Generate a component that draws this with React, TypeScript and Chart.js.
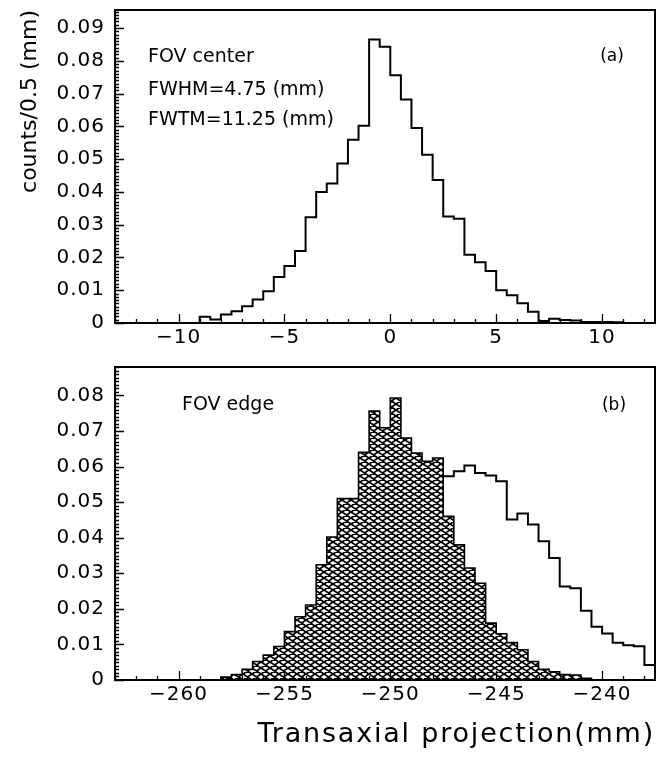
import React, { useEffect, useRef } from 'react';
import { Chart, registerables } from 'chart.js';

Chart.register(...registerables);

const FONT = '"DejaVu Sans", "Liberation Sans", sans-serif';

// ---------- data ----------
const binWidth = 0.5;

// (a) FOV center: bins start at -13 mm, 0.5 mm wide
const centerBinStart = -13;
const centerCounts = [
  0, 0, 0, 0, 0, 0, 0, 0,
  0.0019, 0.0011, 0.0026, 0.0036, 0.0051, 0.0072, 0.0097, 0.014,
  0.0174, 0.022, 0.0323, 0.04, 0.0426, 0.0487, 0.0559, 0.0602,
  0.0865, 0.0843, 0.0756, 0.0682, 0.0595, 0.0513, 0.0436, 0.0325,
  0.0318, 0.0208, 0.0185, 0.0159, 0.0100, 0.0085, 0.006, 0.0034,
  0.0006, 0.0013, 0.0009, 0.0008, 0.0003, 0.0003, 0.0003, 0.0002,
  0, 0, 0,
];

// (b) FOV edge: bins start at -263 mm, 0.5 mm wide
const edgeBinStart = -263;
const edgeHatchedCounts = [
  0, 0, 0, 0, 0, 0, 0, 0, 0, 0,
  0.0008, 0.0015, 0.003, 0.0052, 0.007, 0.0094, 0.0136, 0.0178,
  0.0211, 0.0324, 0.0402, 0.051, 0.051, 0.064, 0.0756, 0.0709,
  0.0793, 0.068, 0.0638, 0.0615, 0.0624, 0.046, 0.038, 0.0315,
  0.0272, 0.016, 0.013, 0.0105, 0.0085, 0.0052, 0.003, 0.0023,
  0.0015, 0.0014, 0.0005, 0, 0, 0, 0, 0, 0,
];
const edgeOutlineCounts: (number | null)[] = [
  null, null, null, null, null, null, null, null, null, null,
  null, null, null, null, null, null, null, null, null, null,
  null, null, null, null, null, null, null, null, null, null,
  null,
  0.0573, 0.0587, 0.0603, 0.0582, 0.0575, 0.0559, 0.0451, 0.0468,
  0.0437, 0.039, 0.0343, 0.0263, 0.0258, 0.0195, 0.015, 0.0131,
  0.0105, 0.0098, 0.0095, 0.0042,
];

// axes
const centerXRange = [-13, 12.5];
const edgeXRange = [-263, -237.5];
const centerYMax = 0.0955;
const edgeYMax = 0.088;
const centerXTicks = [-10, -5, 0, 5, 10];
const centerXLabels = ['\u221210', '\u22125', '0', '5', '10'];
const edgeXTicks = [-260, -255, -250, -245, -240];
const edgeXLabels = ['\u2212260', '\u2212255', '\u2212250', '\u2212245', '\u2212240'];
const centerYTicks = [0, 0.01, 0.02, 0.03, 0.04, 0.05, 0.06, 0.07, 0.08, 0.09];
const centerYLabels = ['0', '0.01', '0.02', '0.03', '0.04', '0.05', '0.06', '0.07', '0.08', '0.09'];
const edgeYTicks = [0, 0.01, 0.02, 0.03, 0.04, 0.05, 0.06, 0.07, 0.08];
const edgeYLabels = ['0', '0.01', '0.02', '0.03', '0.04', '0.05', '0.06', '0.07', '0.08'];

const yTitle = 'counts/0.5 (mm)';
const xTitle = 'Transaxial projection(mm)';
const centerNotes = ['FOV center', 'FWHM=4.75 (mm)', 'FWTM=11.25 (mm)'];
const centerTag = '(a)';
const edgeNotes = ['FOV edge'];
const edgeTag = '(b)';

// ---------- helpers ----------
function histPoints(start: number, values: (number | null)[]) {
  const pts = values.map((v, i) => ({ x: start + i * binWidth, y: v }));
  pts.push({ x: start + values.length * binWidth, y: 0 });
  return pts;
}

function makeMesh(ctxSrc: CanvasRenderingContext2D): CanvasPattern | string {
  const w = 9, h = 6;
  const c = document.createElement('canvas');
  c.width = w; c.height = h;
  const g = c.getContext('2d');
  if (!g) return '#555';
  g.fillStyle = '#fff';
  g.fillRect(0, 0, w, h);
  g.strokeStyle = '#000';
  g.lineWidth = 1.75;
  g.beginPath();
  for (const sx of [-w, 0, w]) {
    for (const sy of [-h, 0, h]) {
      g.moveTo(sx, sy); g.lineTo(sx + w, sy + h);
      g.moveTo(sx, sy + h); g.lineTo(sx + w, sy);
    }
  }
  g.stroke();
  return ctxSrc.createPattern(c, 'repeat') || '#555';
}

// letter spacing: titles are drawn before datasets, tick labels (z: 1) after
const spacingPlugin = {
  id: 'spacing',
  beforeDraw(chart: any, _a: any, opts: any) {
    chart.ctx.letterSpacing = opts.title || '0px';
  },
  beforeDatasetsDraw(chart: any, _a: any, opts: any) {
    chart.ctx.letterSpacing = opts.ticks || '0px';
  },
  afterDraw(chart: any) {
    chart.ctx.letterSpacing = '0px';
  },
};

const framePlugin = {
  id: 'frame',
  afterDatasetsDraw(chart: any) {
    const { ctx, chartArea: a, scales } = chart;
    const xs = scales.x, ys = scales.y;
    ctx.save();
    ctx.strokeStyle = '#000';
    ctx.lineWidth = 1.3;
    ctx.beginPath();
    const nMinor = Math.floor(ys.max / 0.001 + 1e-6);
    for (let k = 0; k <= nMinor; k++) {
      const p = Math.round(ys.getPixelForValue(k * 0.001)) + 0.5;
      const len = k % 10 === 0 ? 9 : 4;
      ctx.moveTo(a.left, p); ctx.lineTo(a.left + len, p);
    }
    for (let v = Math.ceil(xs.min); v <= xs.max; v += 1) {
      const p = Math.round(xs.getPixelForValue(v)) + 0.5;
      const len = v % 5 === 0 ? 9 : 4;
      ctx.moveTo(p, a.bottom); ctx.lineTo(p, a.bottom - len);
    }
    ctx.stroke();
    ctx.lineWidth = 2;
    ctx.strokeRect(a.left, a.top, a.right - a.left, a.bottom - a.top);
    ctx.restore();
  },
};

const notesPlugin = {
  id: 'notes',
  afterDraw(chart: any, _args: any, opts: any) {
    const { ctx, chartArea: a } = chart;
    ctx.save();
    ctx.letterSpacing = '0px';
    ctx.fillStyle = '#000';
    const items = opts.items || [];
    for (let i = 0; i < items.length; i++) {
      const n = items[i];
      ctx.font = n.font;
      ctx.textAlign = n.align;
      ctx.textBaseline = n.baseline;
      const x = n.fromRight ? a.right - n.dx : a.left + n.dx;
      ctx.fillText(n.text, x, a.top + n.dy);
    }
    ctx.restore();
  },
};

function buildOptions(p: {
  xRange: number[]; yMax: number; xTicks: number[]; xLabels: string[];
  yTicks: number[]; yLabels: string[]; padTop: number; xHeight: number;
  yTitleOn: boolean; xTitleOn: boolean; notes: any[]; titleSpacing: string;
}): any {
  return {
    animation: false,
    responsive: false,
    maintainAspectRatio: false,
    layout: { padding: { top: p.padTop, right: 2, left: 0, bottom: 0 } },
    elements: { point: { radius: 0 } },
    plugins: {
      legend: { display: false },
      tooltip: { enabled: false },
      notes: { items: p.notes },
      spacing: { title: p.titleSpacing, ticks: '1px' },
    },
    scales: {
      x: {
        type: 'linear',
        min: p.xRange[0],
        max: p.xRange[1],
        afterBuildTicks: (s: any) => { s.ticks = p.xTicks.map((v) => ({ value: v })); },
        afterFit: (s: any) => {
          s.height = p.xHeight;
          s.paddingLeft = 0; s.paddingRight = 0; s.paddingTop = 0; s.paddingBottom = 0;
        },
        grid: { display: false, drawTicks: false },
        border: { display: false },
        ticks: {
          z: 1, autoSkip: false, maxRotation: 0, minRotation: 0, padding: 3, color: '#000',
          font: { family: FONT, size: 20 },
          callback: (_v: any, i: number) => p.xLabels[i],
        },
        title: {
          display: p.xTitleOn, text: xTitle, align: 'end', color: '#000',
          font: { family: FONT, size: 27 }, padding: { top: 0, bottom: 8 },
        },
      },
      y: {
        type: 'linear',
        min: 0,
        max: p.yMax,
        afterBuildTicks: (s: any) => { s.ticks = p.yTicks.map((v) => ({ value: v })); },
        afterFit: (s: any) => {
          s.width = 115;
          s.paddingLeft = 0; s.paddingRight = 0; s.paddingTop = 0; s.paddingBottom = 0;
        },
        grid: { display: false, drawTicks: false },
        border: { display: false },
        ticks: {
          z: 1, autoSkip: false, padding: 10, color: '#000',
          font: { family: FONT, size: 20, lineHeight: 1 },
          callback: (_v: any, i: number) => p.yLabels[i],
        },
        title: {
          display: p.yTitleOn, text: yTitle, align: 'end', color: '#000',
          font: { family: FONT, size: 22 }, padding: { top: 17, bottom: 0 },
        },
      },
    },
  };
}

export default function App() {
  const topRef = useRef<HTMLCanvasElement>(null);
  const botRef = useRef<HTMLCanvasElement>(null);

  useEffect(() => {
    const charts: Chart[] = [];
    const noteFont = `19px ${FONT}`;
    const tagFont = `17px ${FONT}`;

    if (topRef.current) {
      charts.push(new Chart(topRef.current, {
        type: 'line',
        data: {
          datasets: [{
            data: histPoints(centerBinStart, centerCounts) as any,
            borderColor: '#000', borderWidth: 2, stepped: true, fill: false,
            pointRadius: 0,
          }],
        },
        options: buildOptions({
          xRange: centerXRange, yMax: centerYMax, xTicks: centerXTicks, xLabels: centerXLabels,
          yTicks: centerYTicks, yLabels: centerYLabels, padTop: 10, xHeight: 27,
          yTitleOn: true, xTitleOn: false, titleSpacing: '0px',
          notes: [
            { text: centerNotes[0], dx: 33, dy: 52, align: 'left', baseline: 'alphabetic', font: noteFont },
            { text: centerNotes[1], dx: 33, dy: 85, align: 'left', baseline: 'alphabetic', font: noteFont },
            { text: centerNotes[2], dx: 33, dy: 115, align: 'left', baseline: 'alphabetic', font: noteFont },
            { text: centerTag, dx: 43, dy: 47, fromRight: true, align: 'center', baseline: 'middle', font: tagFont },
          ],
        }),
        plugins: [spacingPlugin, framePlugin, notesPlugin],
      } as any));
    }

    if (botRef.current) {
      const ctx = botRef.current.getContext('2d')!;
      const mesh = makeMesh(ctx);
      charts.push(new Chart(botRef.current, {
        type: 'line',
        data: {
          datasets: [
            {
              data: histPoints(edgeBinStart, edgeHatchedCounts) as any,
              borderColor: '#000', borderWidth: 1.6, stepped: true,
              fill: 'origin', backgroundColor: mesh as any, pointRadius: 0,
            },
            {
              data: histPoints(edgeBinStart, edgeOutlineCounts) as any,
              borderColor: '#000', borderWidth: 2, stepped: true, fill: false,
              pointRadius: 0, spanGaps: false,
            },
          ],
        },
        options: buildOptions({
          xRange: edgeXRange, yMax: edgeYMax, xTicks: edgeXTicks, xLabels: edgeXLabels,
          yTicks: edgeYTicks, yLabels: edgeYLabels, padTop: 17, xHeight: 79,
          yTitleOn: false, xTitleOn: true, titleSpacing: '1.8px',
          notes: [
            { text: edgeNotes[0], dx: 67, dy: 43, align: 'left', baseline: 'alphabetic', font: noteFont },
            { text: edgeTag, dx: 41, dy: 39, fromRight: true, align: 'center', baseline: 'middle', font: tagFont },
          ],
        }),
        plugins: [spacingPlugin, framePlugin, notesPlugin],
      } as any));
    }

    return () => { charts.forEach((c) => c.destroy()); };
  }, []);

  return (
    <div style={{ position: 'fixed', left: 0, top: 0, width: 657, height: 759, background: '#fff' }}>
      <canvas ref={topRef} width={657} height={350}
        style={{ position: 'absolute', left: 0, top: 0, display: 'block' }} />
      <canvas ref={botRef} width={657} height={409}
        style={{ position: 'absolute', left: 0, top: 350, display: 'block' }} />
    </div>
  );
}
